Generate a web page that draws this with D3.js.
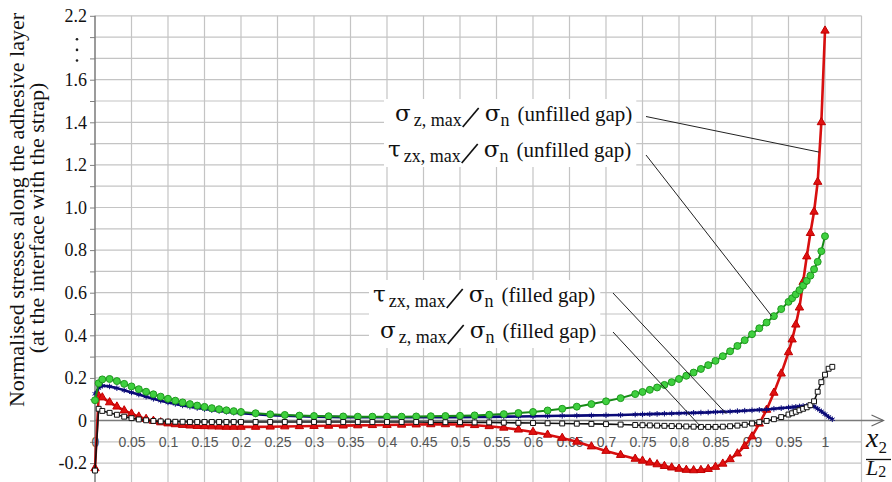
<!DOCTYPE html>
<html>
<head>
<meta charset="utf-8">
<script src="https://cdn.jsdelivr.net/npm/d3@7"></script>
<style>
  body { margin: 0; background: #fff; }
  svg { display: block; }
</style>
</head>
<body>
<script>
'use strict';

// ---- data ----
var xUnfilled = [0, 0.005, 0.01, 0.02, 0.03, 0.04, 0.05, 0.06, 0.07, 0.08, 0.09, 0.10,
    0.11, 0.12, 0.13, 0.14, 0.15, 0.16, 0.17, 0.18, 0.19, 0.20,
    0.22, 0.24, 0.26, 0.28, 0.30, 0.32, 0.34, 0.36, 0.38, 0.40, 0.42, 0.44, 0.46, 0.48,
    0.50, 0.52, 0.54, 0.56, 0.58, 0.60, 0.62, 0.64, 0.66, 0.68, 0.70, 0.72, 0.74,
    0.75, 0.76, 0.77, 0.78, 0.79, 0.80, 0.81, 0.82, 0.83, 0.84, 0.85, 0.86, 0.87, 0.88,
    0.89, 0.90, 0.91, 0.92, 0.93, 0.94, 0.95,
    0.955, 0.96, 0.965, 0.97, 0.975, 0.98, 0.985, 0.99, 0.995, 1.0];
var xFilled = xUnfilled.concat([1.005, 1.01]);

// sigma_z,max / sigma_n (unfilled gap) - red triangles
var sigmaUnfilled = [-0.225, 0.115, 0.108, 0.085, 0.065, 0.047, 0.032, 0.018, 0.007, -0.002, -0.009, -0.014,
    -0.018, -0.021, -0.024, -0.026, -0.027, -0.028, -0.029, -0.03, -0.03, -0.03,
    -0.03, -0.029, -0.028, -0.027, -0.026, -0.025, -0.024, -0.023, -0.022, -0.021, -0.02, -0.019, -0.018, -0.018,
    -0.019, -0.022, -0.027, -0.034, -0.043, -0.054, -0.067, -0.082, -0.1, -0.122, -0.143, -0.162, -0.18,
    -0.189, -0.198, -0.206, -0.214, -0.221, -0.227, -0.232, -0.234, -0.233, -0.228, -0.218, -0.203, -0.182, -0.155,
    -0.12, -0.075, -0.015, 0.05, 0.13, 0.22, 0.32,
    0.38, 0.45, 0.53, 0.65, 0.77, 0.88, 0.98, 1.12, 1.4, 1.83];

// tau_zx,max / sigma_n (unfilled gap) - green circles
var tauUnfilled = [0.095, 0.175, 0.193, 0.195, 0.185, 0.172, 0.16, 0.147, 0.135, 0.123, 0.112, 0.102,
    0.093, 0.085, 0.077, 0.07, 0.064, 0.058, 0.053, 0.048, 0.044, 0.04,
    0.034, 0.029, 0.026, 0.023, 0.021, 0.02, 0.019, 0.018, 0.018, 0.018, 0.018, 0.019, 0.02, 0.021,
    0.022, 0.024, 0.027, 0.03, 0.035, 0.04, 0.047, 0.055, 0.065, 0.077, 0.09, 0.105, 0.124,
    0.134, 0.144, 0.155, 0.167, 0.18, 0.195, 0.21, 0.225, 0.242, 0.26, 0.28, 0.302, 0.325, 0.35,
    0.377, 0.405, 0.433, 0.46, 0.49, 0.523, 0.557,
    0.574, 0.592, 0.612, 0.633, 0.656, 0.68, 0.71, 0.745, 0.795, 0.865];

// tau_zx,max / sigma_n (filled gap) - navy stars
var tauFilled = [0.125, 0.152, 0.163, 0.16, 0.152, 0.142, 0.132, 0.122, 0.112, 0.102, 0.093, 0.085,
    0.078, 0.071, 0.065, 0.059, 0.054, 0.049, 0.045, 0.041, 0.037, 0.034,
    0.029, 0.025, 0.022, 0.02, 0.018, 0.017, 0.016, 0.015, 0.015, 0.015, 0.015, 0.015, 0.015, 0.016,
    0.016, 0.017, 0.017, 0.018, 0.019, 0.02, 0.021, 0.022, 0.023, 0.024, 0.025, 0.026, 0.028,
    0.029, 0.03, 0.031, 0.032, 0.033, 0.034, 0.035, 0.036, 0.037, 0.038, 0.04, 0.041, 0.042, 0.044,
    0.046, 0.048, 0.05, 0.052, 0.055, 0.058, 0.061,
    0.062, 0.064, 0.066, 0.068, 0.069, 0.07, 0.066, 0.055, 0.043, 0.03,
    0.017, 0.006];

// sigma_z,max / sigma_n (filled gap) - black open squares
var sigmaFilled = [-0.235, 0.055, 0.045, 0.036, 0.027, 0.018, 0.011, 0.005, 0.001, -0.002, -0.004, -0.005,
    -0.006, -0.006, -0.007, -0.007, -0.007, -0.007, -0.007, -0.007, -0.007, -0.007,
    -0.007, -0.007, -0.007, -0.007, -0.007, -0.007, -0.007, -0.007, -0.007, -0.007, -0.007, -0.007, -0.008, -0.008,
    -0.008, -0.009, -0.009, -0.01, -0.011, -0.012, -0.013, -0.014, -0.015, -0.016, -0.017, -0.019, -0.021,
    -0.022, -0.023, -0.024, -0.025, -0.026, -0.027, -0.028, -0.029, -0.03, -0.03, -0.03, -0.029, -0.027, -0.024,
    -0.02, -0.014, -0.008, -0.002, 0.006, 0.016, 0.028,
    0.034, 0.041, 0.048, 0.055, 0.062, 0.072, 0.09, 0.135, 0.18, 0.215,
    0.243, 0.252];

var xTickValues = [0, 0.05, 0.1, 0.15, 0.2, 0.25, 0.3, 0.35, 0.4, 0.45, 0.5, 0.55, 0.6, 0.65, 0.7, 0.75, 0.8, 0.85, 0.9, 0.95, 1];
var xTickLabels = ["0", "0.05", "0.1", "0.15", "0.2", "0.25", "0.3", "0.35", "0.4", "0.45", "0.5", "0.55", "0.6", "0.65", "0.7", "0.75", "0.8", "0.85", "0.9", "0.95", "1"];
// the axis is broken at the top: the last grid line carries the label 2.2
var yTickValues = [1.9, 1.6, 1.4, 1.2, 1.0, 0.8, 0.6, 0.4, 0.2, 0, -0.2];
var yTickLabels = ["2.2", "1.6", "1.4", "1.2", "1.0", "0.8", "0.6", "0.4", "0.2", "0", "-0.2"];

// ---- chart ----
var WIDTH = 892, HEIGHT = 482;
var svg = d3.select("body").append("svg")
    .attr("width", WIDTH)
    .attr("height", HEIGHT);

var x = d3.scaleLinear().domain([0, 1.05]).range([95, 861.5]);
var y = d3.scaleLinear().domain([-0.3, 1.9]).range([484.4, 15.8]);

var SERIF = "Liberation Serif";
var GREEK = "DejaVu Serif";

// Grid
var grid = svg.append("g").attr("stroke", "#c4c4c4").attr("stroke-width", 1.2);
grid.selectAll("line.v")
    .data(d3.range(1, 22).map(function (i) { return i * 0.05; }))
    .enter().append("line")
    .attr("class", "v")
    .attr("x1", function (d) { return x(d); })
    .attr("x2", function (d) { return x(d); })
    .attr("y1", y(1.9))
    .attr("y2", HEIGHT);
grid.selectAll("line.h")
    .data(d3.range(-3, 20).map(function (i) { return i / 10; }))
    .enter().append("line")
    .attr("class", "h")
    .attr("x1", x(0))
    .attr("x2", x(1.05))
    .attr("y1", function (d) { return y(d); })
    .attr("y2", function (d) { return y(d); });

// Y axis (ticks every 0.1, labels on selected ones)
var yAxis = d3.axisLeft(y)
    .tickValues(d3.range(-3, 20).map(function (i) { return i / 10; }))
    .tickSize(5)
    .tickPadding(3)
    .tickFormat(function (d) {
        for (var i = 0; i < yTickValues.length; i++) {
            if (Math.abs(yTickValues[i] - d) < 1e-6) return yTickLabels[i];
        }
        return "";
    });
var gy = svg.append("g").attr("transform", "translate(" + x(0) + ",0)").call(yAxis);
gy.select(".domain").remove();
gy.selectAll(".tick line").attr("stroke", "#808080");
gy.selectAll(".tick text")
    .style("font-family", SERIF)
    .style("font-size", "18px")
    .attr("fill", "#111");

// break marks under the top label
svg.selectAll("circle.brk")
    .data([1.79, 1.74, 1.69])
    .enter().append("circle")
    .attr("class", "brk")
    .attr("cx", x(0) - 18)
    .attr("cy", function (d) { return y(d); })
    .attr("r", 1.3)
    .attr("fill", "#222");

// X axis labels (drawn under the curves)
var xAxis = d3.axisBottom(x)
    .tickValues(xTickValues)
    .tickSize(0)
    .tickPadding(17)
    .tickFormat(function (d, i) { return xTickLabels[i]; });
var gx = svg.append("g").attr("transform", "translate(0," + y(0) + ")").call(xAxis);
gx.select(".domain").remove();
gx.selectAll(".tick text")
    .style("font-family", "Liberation Sans")
    .style("font-size", "14px")
    .attr("fill", "#555");

// axis lines
svg.append("line")
    .attr("x1", x(0)).attr("x2", x(0))
    .attr("y1", y(1.9)).attr("y2", HEIGHT)
    .attr("stroke", "#7a7a7a").attr("stroke-width", 1.5);
svg.append("line")
    .attr("x1", x(0)).attr("x2", 883)
    .attr("y1", y(0)).attr("y2", y(0))
    .attr("stroke", "#7a7a7a").attr("stroke-width", 1.5);
svg.append("path")
    .attr("d", "M871.5," + (y(0) - 5.5) + "L883.5," + y(0) + "L871.5," + (y(0) + 5.5))
    .attr("fill", "none")
    .attr("stroke", "#666")
    .attr("stroke-width", 1.2);

// Series
var line = d3.line()
    .x(function (d) { return x(d[0]); })
    .y(function (d) { return y(d[1]); });

function zip(xs, ys) {
    return xs.map(function (v, i) { return [v, ys[i]]; });
}

var series = [
    { name: "sigmaUnfilled", data: zip(xUnfilled, sigmaUnfilled), stroke: "#d80f0f", width: 2.6,
      symbol: d3.symbolTriangle, size: 30, fill: "#e01010", mstroke: "#c00000" },
    { name: "tauFilled", data: zip(xFilled, tauFilled), stroke: "#0a0a78", width: 2.6,
      symbol: d3.symbolAsterisk, size: 22, fill: "none", mstroke: "#0a0a78" },
    { name: "tauUnfilled", data: zip(xUnfilled, tauUnfilled), stroke: "#168a16", width: 2,
      symbol: d3.symbolCircle, size: 38, fill: "#3fd03f", mstroke: "#1f9a1f" },
    { name: "sigmaFilled", data: zip(xFilled, sigmaFilled), stroke: "#111", width: 1.6,
      symbol: d3.symbolSquare, size: 24, fill: "#fff", mstroke: "#111" }
];

series.forEach(function (s) {
    var g = svg.append("g").attr("class", s.name);
    g.append("path")
        .datum(s.data)
        .attr("d", line)
        .attr("fill", "none")
        .attr("stroke", s.stroke)
        .attr("stroke-width", s.width)
        .attr("stroke-linejoin", "round");
    g.selectAll("path.m")
        .data(s.data)
        .enter().append("path")
        .attr("class", "m")
        .attr("d", d3.symbol().type(s.symbol).size(s.size))
        .attr("transform", function (d) { return "translate(" + x(d[0]) + "," + y(d[1]) + ")"; })
        .attr("fill", s.fill)
        .attr("stroke", s.mstroke)
        .attr("stroke-width", 1);
});

// Annotations
var labels = [
    { group: 0, sym: "\u03c3", sub: "z, max", note: "(unfilled gap)", tx: 395, ty: 121,
      from: [646, 116.5], to: [0.992, 1.26] },
    { group: 0, sym: "\u03c4", sub: "zx, max", note: "(unfilled gap)", tx: 388, ty: 157,
      from: [646, 155], to: [0.927, 0.49] },
    { group: 1, sym: "\u03c4", sub: "zx, max", note: "(filled gap)", tx: 373, ty: 302,
      from: [613, 293], to: [0.865, 0.031] },
    { group: 1, sym: "\u03c3", sub: "z, max", note: "(filled gap)", tx: 380, ty: 338,
      from: [613, 332], to: [0.829, -0.026] }
];

var boxes = [svg.append("g"), svg.append("g")];

labels.forEach(function (l) {
    svg.append("line")
        .attr("x1", l.from[0]).attr("y1", l.from[1])
        .attr("x2", x(l.to[0])).attr("y2", y(l.to[1]))
        .attr("stroke", "#222")
        .attr("stroke-width", 1);

    var g = boxes[l.group];
    // numerator: symbol with subscript
    var t1 = g.append("text")
        .attr("x", l.tx)
        .attr("y", l.ty)
        .attr("fill", "#111");
    t1.append("tspan").style("font-family", GREEK).style("font-size", "23px").text(l.sym);
    t1.append("tspan").style("font-family", SERIF).style("font-size", "18px")
        .attr("dy", 5).attr("dx", 3).text(l.sub);
    var w1 = t1.node().getComputedTextLength() + 3;

    // the big slash
    var sx = l.tx + w1 + 1;
    g.append("path")
        .attr("d", "M" + sx + "," + (l.ty + 6) + "L" + (sx + 16) + "," + (l.ty - 13))
        .attr("stroke", "#111")
        .attr("stroke-width", 1.7)
        .attr("fill", "none");

    // denominator and note
    var t2 = g.append("text")
        .attr("x", sx + 22)
        .attr("y", l.ty)
        .attr("fill", "#111");
    t2.append("tspan").style("font-family", GREEK).style("font-size", "23px").text("\u03c3");
    t2.append("tspan").style("font-family", SERIF).style("font-size", "18px")
        .attr("dy", 5).text("n");
    t2.append("tspan").style("font-family", SERIF).style("font-size", "21px")
        .attr("dy", -5).attr("dx", 8).text(l.note);
});

boxes.forEach(function (g) {
    var b = g.node().getBBox();
    g.insert("rect", ":first-child")
        .attr("x", b.x - 4)
        .attr("y", b.y - 1)
        .attr("width", b.width + 8)
        .attr("height", b.height + 2)
        .attr("fill", "#fff");
});

// Axis titles
var yTitle = [
    { text: "Normalised stresses along the adhesive layer", tx: 24, ty: 210 },
    { text: "(at the interface with the strap)", tx: 44, ty: 218 }
];
yTitle.forEach(function (d) {
    svg.append("text")
        .attr("transform", "translate(" + d.tx + "," + d.ty + ") rotate(-90)")
        .attr("text-anchor", "middle")
        .style("font-family", SERIF)
        .style("font-size", "22px")
        .attr("fill", "#111")
        .text(d.text);
});

var xt = svg.append("text").attr("x", 866).attr("y", 447).attr("fill", "#111")
    .style("font-family", SERIF);
xt.append("tspan").style("font-size", "28px").style("font-style", "italic").text("x");
xt.append("tspan").style("font-size", "17px").attr("dy", 6).text("2");
svg.append("line")
    .attr("x1", 866).attr("x2", 891)
    .attr("y1", 459.5).attr("y2", 459.5)
    .attr("stroke", "#111").attr("stroke-width", 1.3);
var lt = svg.append("text").attr("x", 866).attr("y", 475).attr("fill", "#111")
    .style("font-family", SERIF);
lt.append("tspan").style("font-size", "22px").style("font-style", "italic").text("L");
lt.append("tspan").style("font-size", "16px").attr("dy", 2).text("2");
</script>
</body>
</html>
